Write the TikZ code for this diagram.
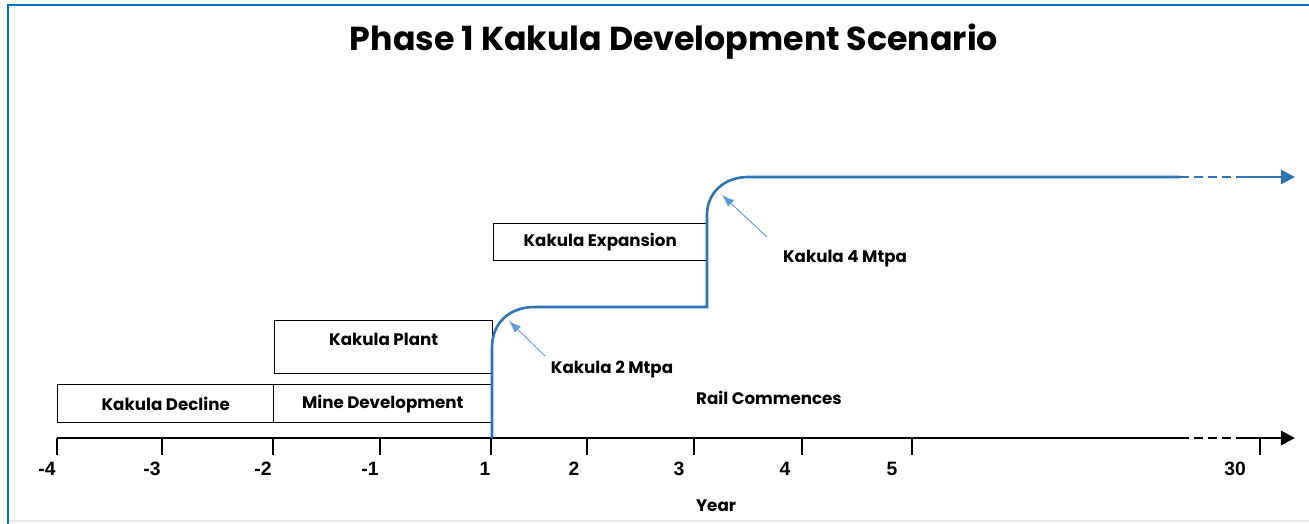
\documentclass[tikz,border=0pt]{standalone}
\usepackage{fontspec}
\setmainfont{Poppins}
\newfontfamily\arialfont{Liberation Sans}
\usetikzlibrary{arrows.meta,positioning}

\definecolor{framebl}{RGB}{0,112,192}
\definecolor{stepbl}{RGB}{46,117,182}
\definecolor{notebl}{RGB}{91,155,213}

\begin{document}
\begin{tikzpicture}[x=0.02cm,y=-0.02cm,
    phasebox/.style={draw,line width=0.8pt,inner sep=0pt,anchor=north west,
      minimum height=0.76cm,font=\fontsize{9.5}{12}\selectfont\bfseries},
    boxtext/.style={inner sep=0pt,font=\fontsize{9.5}{12}\selectfont\bfseries},
    ticklbl/.style={inner sep=0pt,font=\arialfont\fontsize{11}{13}\selectfont\bfseries},
    note/.style={inner sep=0pt,font=\fontsize{9.5}{12}\selectfont\bfseries},
    notearrow/.style={notebl,line width=0.5pt,-{Latex[length=7pt,width=5pt]}},
  ]
  \useasboundingbox (0,0) rectangle (1309,524);

  % frame
  \draw[black!8,line width=0.6pt] (10,521) -- (1309,521);
  \draw[framebl,line width=1.3pt] (8,524) -- (8,5) -- (1309,5);

  % title
  \node[inner sep=0pt,font=\fontsize{18.9}{22}\selectfont\bfseries] (title) at (674,42)
    {Phase 1 Kakula Development Scenario};

  % boxes
  \node[phasebox,minimum width=4.32cm] (decline) at (57,384) {Kakula Decline};
  \node[phasebox,minimum width=4.36cm] (minedev) at (273,384) {Mine Development};
  \node[phasebox,minimum width=4.36cm,minimum height=1.06cm] (plant) at (274,320) {};
  \node[boxtext] (plantlbl) at ([yshift=-0.38cm]plant.north) {Kakula Plant};
  \node[phasebox,minimum width=4.26cm,minimum height=0.74cm] (expansion) at (493,223) {Kakula Expansion};

  % time axis
  \coordinate (axstart) at (57,438);
  \coordinate (axdash) at (1180,438);
  \coordinate (axsolid) at (1237,438);
  \coordinate (axend) at (1295,438);
  \draw[line width=1.7pt] (axstart) -- (axdash);
  \draw[line width=1.7pt,dash pattern=on 5pt off 3pt] (axdash) -- (axsolid);
  \draw[line width=1.7pt,-{Triangle[length=8pt,width=8pt]}] (axsolid) -- (axend);

  \foreach \tx/\lx/\yr [count=\i] in {57/47/-4,162/152/-3,273/263/-2,380/370/-1,
      491/485/1,587/574/2,694/679/3,802/785/4,912/892/5,1260/1235/30} {
    \draw[line width=1.1pt] (\tx,438) -- (\tx,455);
    \node[ticklbl] (yr\i) at (\lx,469) {\yr};
  }
  \node[note] (yearlbl) at (716,506) {Year};

  % production profile
  \coordinate (p0) at (492,438);
  \coordinate (p1) at (492,348);
  \coordinate (p2) at (535,307);
  \coordinate (p3) at (707,307);
  \coordinate (p4) at (707,215);
  \coordinate (p5) at (748,177);
  \coordinate (p6) at (1180,177);
  \coordinate (p7) at (1237,177);
  \coordinate (p8) at (1295,177);
  \draw[stepbl,line width=1.5pt] (p0) -- (p1) .. controls (492,322) and (510,307) .. (p2)
    -- (p3) -- (p4) .. controls (707,192) and (725,177) .. (p5) -- (p6);
  \draw[stepbl,line width=1.5pt,dash pattern=on 5pt off 3pt] (p6) -- (p7);
  \draw[stepbl,line width=1.5pt,-{Triangle[length=8pt,width=8pt]}] (p7) -- (p8);

  % labels
  \node[note] (mtpa2) at (612,369) {Kakula 2 Mtpa};
  \node[note] (mtpa4) at (845,259) {Kakula 4 Mtpa};
  \node[note] (rail) at (769,398) {Rail Commences};
  \coordinate (tip2) at (509,321);
  \coordinate (tip4) at (722,195);
  \draw[notearrow] (545,356) -- (tip2);
  \draw[notearrow] (767,237) -- (tip4);
\end{tikzpicture}
\end{document}
